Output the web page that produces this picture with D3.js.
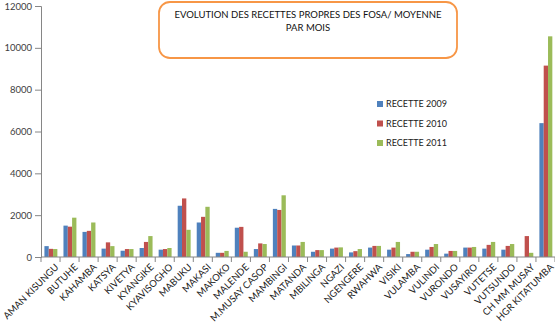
<!DOCTYPE html>
<html><head><meta charset="utf-8">
<script src="https://cdn.jsdelivr.net/npm/d3@7/dist/d3.min.js"></script>
<style>body{margin:0;background:#fff}svg{display:block}</style>
</head><body>
<script>
const categories = ["AMAN  KISUNGU","BUTUHE","KAHAMBA","KATSYA","KIVETYA","KYANGIKE","KYAVISOGHO","MABUKU","MAKASI","MAKOKO","MALENDE","M.MUSAY CASOP","MAMBINGI","MATANDA","MBILINGA","NGAZI","NGENGERE","RWAHWA","VISIKI","VULAMBA","VULINDI","VURONDO","VUSAYIRO","VUTETSE","VUTSUNDO","CH MM MUSAY","HGR KITATUMBA"];
const seriesNames = ["RECETTE 2009","RECETTE 2010","RECETTE 2011"];
const recette2009 = [520,1500,1200,400,300,430,350,2450,1650,200,1400,380,2300,550,250,400,220,450,350,140,350,160,450,400,350,0,6400];
const recette2010 = [390,1450,1250,700,380,720,380,2800,1920,200,1440,650,2250,550,330,450,280,530,450,250,480,290,450,580,530,1000,9150];
const recette2011 = [380,1880,1650,520,380,1000,430,1300,2400,290,250,620,2950,720,330,460,380,530,720,250,620,290,480,720,620,200,10550];
const yTicks = [0,2000,4000,6000,8000,10000,12000];
const colors = ["#4F81BD","#C0504D","#9BBB59"];
const titleLines = ["EVOLUTION DES RECETTES PROPRES DES FOSA/ MOYENNE","PAR MOIS"];

(function(){
const W=555,H=323;
const svg=d3.select("body").append("svg").attr("width",W).attr("height",H);
const pL=41,pR=555,pT=6,pB=257;
const x=d3.scaleBand().domain(categories).range([pL,pR]).paddingInner(0).paddingOuter(0);
const bw=x.bandwidth();
const xs=d3.scaleBand().domain(seriesNames).range([bw*0.18,bw*0.86]);
const y=d3.scaleLinear().domain([0,12000]).range([pB,pT]);
const data=[recette2009,recette2010,recette2011];

seriesNames.forEach((s,si)=>{
  svg.append("g").selectAll("rect").data(categories).join("rect")
    .attr("x",c=>x(c)+xs(s)).attr("width",xs.bandwidth())
    .attr("y",(c,i)=>y(data[si][i])).attr("height",(c,i)=>pB-y(data[si][i]))
    .attr("fill",colors[si]);
});

const ya=svg.append("g").attr("transform",`translate(${pL},0)`)
  .call(d3.axisLeft(y).tickValues(yTicks).tickSize(6).tickPadding(3).tickFormat(d3.format("d")));
ya.select(".domain").attr("stroke","#868686");
ya.selectAll(".tick line").attr("stroke","#868686");
ya.selectAll("text").attr("font-family","Lato, sans-serif").attr("font-size","9.5px").attr("fill","#404040");

const xa=svg.append("g").attr("transform",`translate(0,${pB})`);
xa.append("line").attr("x1",pL).attr("x2",pR).attr("y1",0).attr("y2",0).attr("stroke","#868686");
xa.selectAll("line.t").data(categories.concat(["__end"])).join("line").attr("class","t")
  .attr("x1",(c,i)=>pL+i*bw).attr("x2",(c,i)=>pL+i*bw).attr("y1",0).attr("y2",5).attr("stroke","#868686");
xa.selectAll("text").data(categories).join("text")
  .attr("transform",c=>`translate(${x(c)+bw/2+4},${6}) rotate(-45)`)
  .attr("text-anchor","end").attr("dy","0.7em")
  .attr("font-family","Lato, sans-serif").attr("font-size","9.5px").attr("fill","#222")
  .text(c=>c);

svg.append("rect").attr("x",159).attr("y",2).attr("width",298).attr("height",56).attr("rx",11)
  .attr("fill","#fff").attr("stroke","#F79646").attr("stroke-width",1.8);
svg.append("g").selectAll("text").data(titleLines).join("text")
  .attr("x",308).attr("y",(d,i)=>18+i*13).attr("text-anchor","middle")
  .attr("font-family","Lato, sans-serif").attr("font-size","9.5px").attr("fill","#111").text(d=>d);

const lg=svg.append("g");
seriesNames.forEach((s,i)=>{
  lg.append("rect").attr("x",377).attr("y",101+i*19.5).attr("width",6).attr("height",6).attr("fill",colors[i]);
  lg.append("text").attr("x",386).attr("y",107+i*19.5).attr("font-family","Lato, sans-serif")
    .attr("font-size","9px").attr("fill","#222").text(s);
});
})();
</script>
</body></html>
